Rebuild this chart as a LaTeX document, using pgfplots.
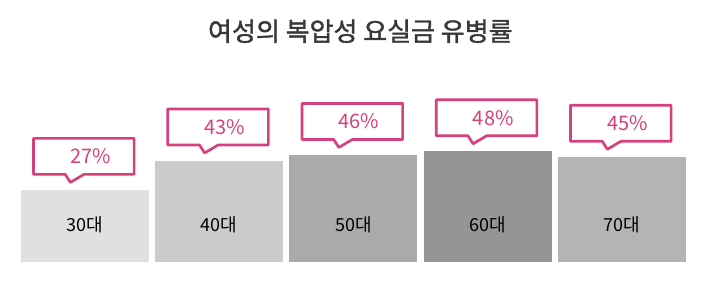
\documentclass[border=0pt]{standalone}
\usepackage{pgfplots}
\pgfplotsset{compat=1.18}
\usetikzlibrary{shapes.callouts}
\usepackage{fontspec}
\setmainfont{Noto Sans CJK KR}
\newfontfamily\titlefont[FakeBold=1.4]{Noto Sans CJK KR}
\definecolor{calloutpink}{HTML}{D6407C}
\definecolor{titlegray}{HTML}{383838}
\definecolor{barA}{HTML}{E0E0E0}
\definecolor{barB}{HTML}{CBCBCB}
\definecolor{barC}{HTML}{AAAAAA}
\definecolor{barD}{HTML}{959595}
\definecolor{barE}{HTML}{B4B4B4}
\begin{document}
\begin{tikzpicture}
\begin{axis}[
  scale only axis, width=531pt, height=220.5pt,
  xmin=-0.633, xmax=4.641,
  % bars rise from a common floor a little below zero
  y coord trafo/.code={\pgfmathparse{#1+12.2}},
  y coord inv trafo/.code={\pgfmathparse{#1-12.2}},
  ymin=-29.6, ymax=130.3,
  axis on top,
  axis line style={draw=none}, major tick length=0pt,
  ytick=\empty,
  xtick={0,1,2,3,4},
  xticklabels={30대,40대,50대,60대,70대},
  xticklabel style={anchor=center, yshift=51.75pt,
    font=\fontsize{13.5}{15}\selectfont, text=black},
  ybar, bar width=96pt, bar shift=0pt,
  point meta=rawy,
  /pgf/number format/assume math mode=true,
  nodes near coords={\hspace*{10pt}\pgfmathprintnumber{\pgfplotspointmeta}\%},
  every node near coord/.append style={
    shape=rectangle callout,
    callout relative pointer={(-3.1pt,-6pt)},
    callout pointer width=14pt,
    anchor=pointer, xshift=-11.25pt, yshift=4.4pt,
    draw=calloutpink, line width=2pt, line join=round,
    fill=white, text=calloutpink,
    minimum width=75.5pt, minimum height=27pt, inner sep=0pt,
    font=\fontsize{15}{18}\selectfont},
  title={여성의 복압성 요실금 유병률},
  title style={at={(0.509,0.867)}, anchor=center,
    font=\titlefont\fontsize{19.5}{23}\selectfont, text=titlegray},
  clip=false,
]
\addplot[fill=barA, draw=none] coordinates {(0,27)};
\addplot[fill=barB, draw=none] coordinates {(1,43)};
\addplot[fill=barC, draw=none] coordinates {(2,46)};
\addplot[fill=barD, draw=none] coordinates {(3,48)};
\addplot[fill=barE, draw=none] coordinates {(4,45)};
\path (rel axis cs:0,0) rectangle (rel axis cs:1,1);
\end{axis}
\end{tikzpicture}
\end{document}
